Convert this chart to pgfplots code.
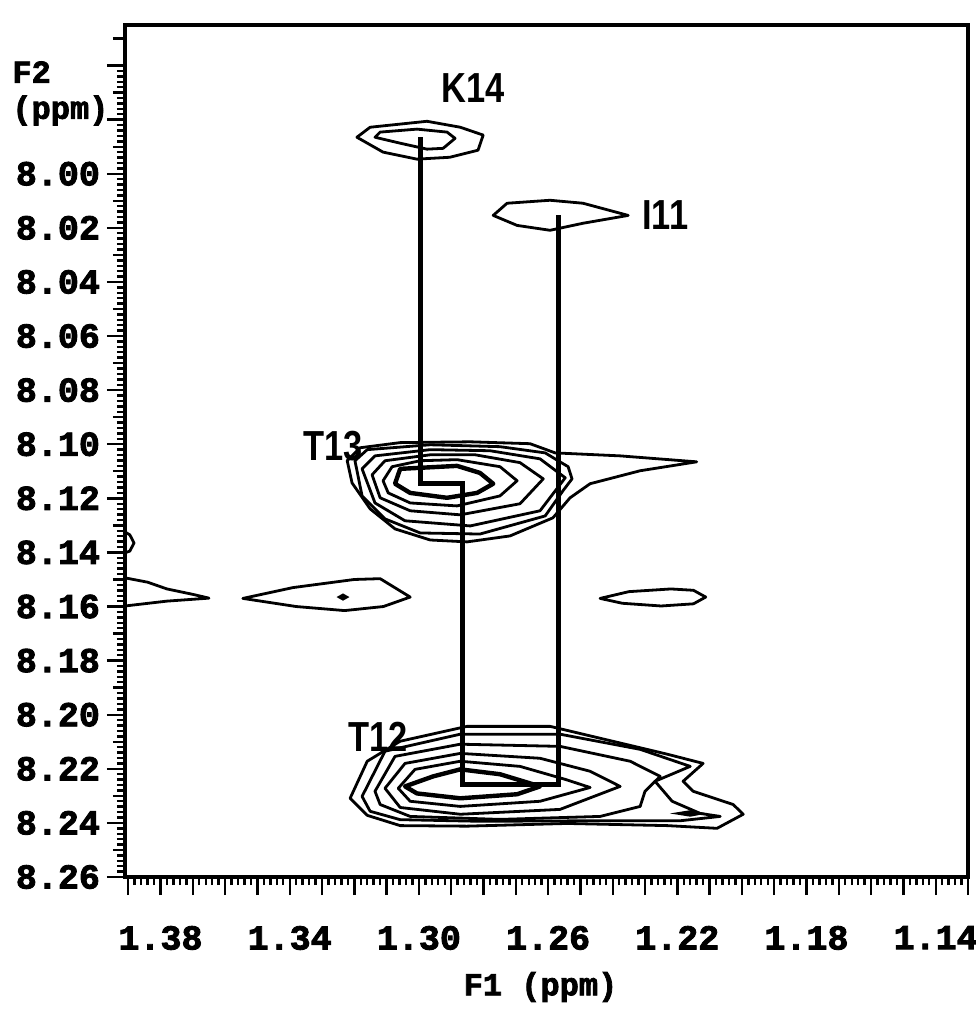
\documentclass[border=0pt]{standalone}
\usepackage{fontspec}
\usepackage{pgfplots}
\pgfplotsset{compat=1.18}
\newfontface\tickfont{Liberation Mono Bold}[FakeBold=2.5]
\newfontface\peakfont{Liberation Sans Bold}[FakeStretch=0.82]

\pgfplotsset{
  cont/.style={black, line width=1.4pt, line join=round, mark=none},
  core/.style={black, line width=2.2pt, line join=round, mark=none},
}

\begin{document}
\begin{tikzpicture}
\useasboundingbox (-62.5pt,-77.5pt) rectangle (425pt,438.5pt);
\begin{axis}[
  name=ax, at={(0pt,0pt)}, anchor=south west,
  scale only axis, width=421.5pt, height=426pt,
  xmin=1.130, xmax=1.391, ymin=7.945, ymax=8.26,
  x dir=reverse, y dir=reverse,
  axis line style={line width=2pt},
  tick pos=left, tick align=outside,
  every tick/.style={black, line width=1.2pt},
  major tick length=9pt, minor tick length=4pt,
  xtick={1.13,1.14,1.15,1.16,1.17,1.18,1.19,1.20,1.21,1.22,1.23,1.24,1.25,1.26,1.27,1.28,1.29,1.30,1.31,1.32,1.33,1.34,1.35,1.36,1.37,1.38,1.39},
  xticklabels={,1.14,,,,1.18,,,,1.22,,,,1.26,,,,1.30,,,,1.34,,,,1.38,},
  minor x tick num=4,
  ytick={7.96,7.98,8.00,8.02,8.04,8.06,8.08,8.10,8.12,8.14,8.16,8.18,8.20,8.22,8.24,8.26},
  yticklabels={,,8.00,8.02,8.04,8.06,8.08,8.10,8.12,8.14,8.16,8.18,8.20,8.22,8.24,8.26},
  minor y tick num=9,
  extra y ticks={7.95,7.97,7.99,8.01,8.03,8.05,8.07,8.09,8.11,8.13,8.15,8.17,8.19,8.21,8.23,8.25},
  extra y tick labels={},
  extra y tick style={major tick length=6pt},
  tick label style={font=\tickfont\fontsize{17.5}{20}\selectfont},
  xticklabel style={yshift=-12pt},
]

% K14 cross peak
\addplot[cont] coordinates {(1.3192,7.9865) (1.3151,7.9828) (1.2975,7.9806) (1.2872,7.9828) (1.2801,7.9857) (1.2817,7.9913) (1.2904,7.9939) (1.3006,7.9946) (1.3111,7.9920)} --cycle;
\addplot[cont] coordinates {(1.3136,7.9865) (1.3120,7.9846) (1.3006,7.9835) (1.2913,7.9846) (1.2888,7.9869) (1.2925,7.9906) (1.2975,7.9909) (1.3058,7.9887)} --cycle;

% I11 cross peak
\addplot[cont] coordinates {(1.2770,8.0154) (1.2727,8.0109) (1.2594,8.0098) (1.2492,8.0109) (1.2352,8.0154) (1.2492,8.0183) (1.2594,8.0209) (1.2696,8.0191)} --cycle;

% T13 cross peak
\addplot[core] coordinates {(1.3074,8.1146) (1.3058,8.1091) (1.2882,8.1080) (1.2811,8.1106) (1.2770,8.1146) (1.2820,8.1180) (1.2913,8.1198) (1.3027,8.1180)} --cycle;
\addplot[cont] coordinates {(1.3111,8.1135) (1.3083,8.1083) (1.2996,8.1061) (1.2882,8.1057) (1.2749,8.1083) (1.2696,8.1135) (1.2749,8.1191) (1.2882,8.1228) (1.3027,8.1217) (1.3095,8.1180)} --cycle;
\addplot[cont] coordinates {(1.3145,8.1113) (1.3105,8.1061) (1.2965,8.1039) (1.2826,8.1039) (1.2687,8.1068) (1.2615,8.1128) (1.2687,8.1220) (1.2872,8.1261) (1.3027,8.1246) (1.3120,8.1198)} --cycle;
\addplot[cont] coordinates {(1.3176,8.1091) (1.3136,8.1043) (1.2965,8.1020) (1.2780,8.1024) (1.2625,8.1054) (1.2547,8.1124) (1.2625,8.1246) (1.2841,8.1302) (1.3043,8.1283) (1.3136,8.1217)} --cycle;
\addplot[cont] coordinates {(1.3198,8.1061) (1.3160,8.1020) (1.2965,8.1002) (1.2749,8.1009) (1.2609,8.1032) (1.2569,8.1061) (1.2538,8.1083) (1.2526,8.1128) (1.2554,8.1172) (1.2609,8.1265) (1.2811,8.1332) (1.2996,8.1328) (1.3105,8.1276) (1.3176,8.1191)} --cycle;
\addplot[cont] coordinates {(1.3222,8.1061) (1.3182,8.1013) (1.3058,8.0994) (1.2841,8.0991) (1.2656,8.0998) (1.2578,8.1032) (1.2377,8.1043) (1.2140,8.1065) (1.2315,8.1098) (1.2470,8.1146) (1.2532,8.1198) (1.2585,8.1272) (1.2718,8.1339) (1.2851,8.1361) (1.2965,8.1354) (1.3074,8.1313) (1.3151,8.1239) (1.3207,8.1143)} --cycle;

% weak peaks along F2 = 8.157
\addplot[cont] coordinates {(1.3950,8.1482) (1.3910,8.1494) (1.3840,8.1510) (1.3780,8.1535) (1.3700,8.1555) (1.3650,8.1569) (1.3780,8.1580) (1.3910,8.1598) (1.3950,8.1603)};
\addplot[cont] coordinates {(1.3930,8.1310) (1.3895,8.1335) (1.3882,8.1365) (1.3895,8.1395) (1.3930,8.1410)};
\addplot[cont] coordinates {(1.3545,8.1570) (1.3390,8.1530) (1.3200,8.1500) (1.3120,8.1497) (1.3027,8.1565) (1.3110,8.1600) (1.3230,8.1615) (1.3380,8.1600)} --cycle;
\addplot[black, fill=black, line width=0.8pt] coordinates {(1.3250,8.1565) (1.3235,8.1555) (1.3220,8.1565) (1.3235,8.1575)} --cycle;
\addplot[cont] coordinates {(1.2439,8.1570) (1.2350,8.1545) (1.2220,8.1535) (1.2150,8.1540) (1.2112,8.1565) (1.2150,8.1590) (1.2250,8.1598) (1.2370,8.1588)} --cycle;

% T12 cross peak
\addplot[core] coordinates {(1.3043,8.2265) (1.2956,8.2228) (1.2872,8.2202) (1.2749,8.2220) (1.2625,8.2265) (1.2696,8.2294) (1.2872,8.2309) (1.3006,8.2291)} --cycle;
\addplot[cont] coordinates {(1.3064,8.2272) (1.3012,8.2202) (1.2872,8.2172) (1.2687,8.2191) (1.2547,8.2239) (1.2470,8.2269) (1.2625,8.2320) (1.2872,8.2339) (1.3027,8.2320)} --cycle;
\addplot[cont] coordinates {(1.3105,8.2272) (1.3043,8.2180) (1.2872,8.2143) (1.2625,8.2161) (1.2470,8.2209) (1.2377,8.2265) (1.2563,8.2350) (1.2872,8.2368) (1.3058,8.2343)} --cycle;
\addplot[cont] coordinates {(1.3136,8.2283) (1.3074,8.2154) (1.2872,8.2109) (1.2563,8.2117) (1.2346,8.2172) (1.2253,8.2228) (1.2300,8.2283) (1.2315,8.2339) (1.2439,8.2376) (1.2749,8.2387) (1.3027,8.2376) (1.3120,8.2332)} --cycle;
\addplot[cont] coordinates {(1.3176,8.2302) (1.3105,8.2135) (1.2872,8.2072) (1.2563,8.2072) (1.2315,8.2128) (1.2160,8.2191) (1.2269,8.2246) (1.2216,8.2320) (1.2129,8.2365) (1.2067,8.2376) (1.2191,8.2392) (1.2439,8.2392) (1.2811,8.2394) (1.3058,8.2388) (1.3151,8.2357)} --cycle;
\addplot[cont] coordinates {(1.3213,8.2309) (1.3160,8.2172) (1.3058,8.2098) (1.2851,8.2043) (1.2594,8.2043) (1.2439,8.2087) (1.2231,8.2146) (1.2120,8.2180) (1.2182,8.2246) (1.2151,8.2283) (1.2027,8.2332) (1.1996,8.2368) (1.2077,8.2420) (1.2231,8.2410) (1.2541,8.2402) (1.2851,8.2412) (1.3058,8.2410) (1.3160,8.2372)} --cycle;
\addplot[black, fill=black, line width=0.8pt] coordinates {(1.2207,8.2365) (1.2160,8.2356) (1.2120,8.2365) (1.2160,8.2374)} --cycle;

% sequential connectivity path K14 - T13 - T12 - I11
\addplot[black, line width=2.4pt, line join=miter] coordinates {(1.2996,7.9865) (1.2996,8.1146) (1.2866,8.1146) (1.2866,8.2257) (1.2569,8.2257) (1.2569,8.0154)};

% residue labels
\node[font=\peakfont\fontsize{21}{24}\selectfont] at (axis cs:1.2832,7.9683) {K14};
\node[font=\peakfont\fontsize{21}{24}\selectfont, anchor=west] at (axis cs:1.2330,8.0154) {I11};
\node[font=\peakfont\fontsize{21}{24}\selectfont] at (axis cs:1.3266,8.1006) {T13};
\node[font=\peakfont\fontsize{21}{24}\selectfont] at (axis cs:1.3126,8.2080) {T12};
\end{axis}
\node[anchor=north west, align=left, inner sep=0pt, font=\tickfont\fontsize{16}{18}\selectfont] at ([xshift=-56.5pt,yshift=-18pt]ax.north west) {F2\\(ppm)};
\node[font=\tickfont\fontsize{16}{19}\selectfont] at ([xshift=-3pt,yshift=-55pt]ax.south) {F1 (ppm)};
\end{tikzpicture}
\end{document}
